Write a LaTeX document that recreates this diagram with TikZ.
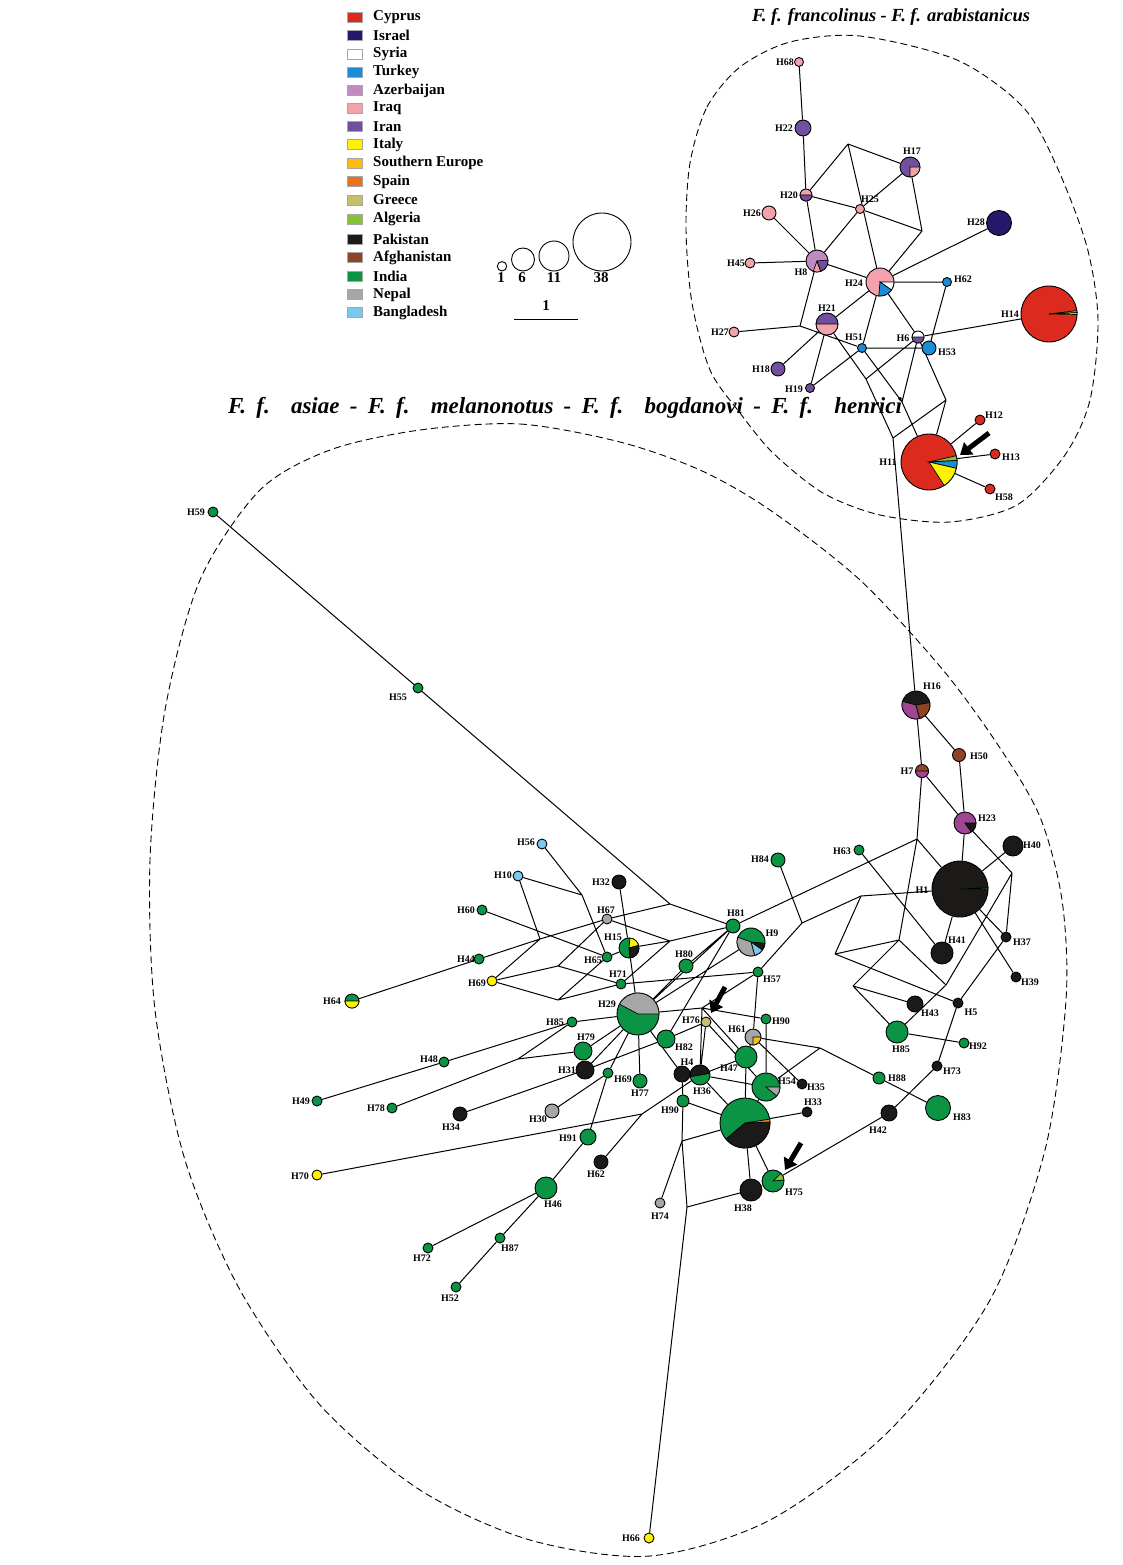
\documentclass[tikz,border=0pt]{standalone}
\usepackage{fontspec}
\setmainfont{Liberation Serif}
\usetikzlibrary{arrows.meta,backgrounds}
\definecolor{cCyp}{HTML}{DC2A1E}
\definecolor{cIsr}{HTML}{25196B}
\definecolor{cSyr}{HTML}{FFFFFF}
\definecolor{cTur}{HTML}{1B8CD6}
\definecolor{cAze}{HTML}{C08BC2}
\definecolor{cIrq}{HTML}{F3A1AA}
\definecolor{cIrn}{HTML}{6F4F9E}
\definecolor{cIta}{HTML}{FFF200}
\definecolor{cSEu}{HTML}{FBBC0E}
\definecolor{cSpa}{HTML}{E8731E}
\definecolor{cGre}{HTML}{C5BE6C}
\definecolor{cAlg}{HTML}{86C232}
\definecolor{cPak}{HTML}{1C1A19}
\definecolor{cAfg}{HTML}{8F4427}
\definecolor{cInd}{HTML}{0B9444}
\definecolor{cNep}{HTML}{A6A6A6}
\definecolor{cBan}{HTML}{7AC7EF}
\definecolor{cMag}{HTML}{9E4593}
\newcommand\pz[5]{\filldraw[fill=#5,draw=black,line width=.7pt] (#1.center) -- ++({-(#3)}:#2) arc[start angle={-(#3)},end angle={-(#4)},radius=#2] -- cycle;}
\tikzset{
  hap/.style={circle,draw=black,line width=.9pt,inner sep=0pt,minimum size=#1},
  lab/.style={font=\bfseries\fontsize{10}{11}\selectfont,inner sep=0pt},
  edge/.style={line width=1pt},
  legtxt/.style={font=\bfseries\fontsize{15}{16}\selectfont,anchor=west,inner sep=0pt},
  legsq/.style={draw=black!35,line width=.4pt,minimum width=15pt,minimum height=10pt,inner sep=0pt},
  legnum/.style={font=\bfseries\fontsize{15}{16}\selectfont,inner sep=0pt},
  ttl/.style={font=\bfseries\itshape\fontsize{18.5}{20}\selectfont,inner sep=0pt},
  grp/.style={dash pattern=on 7pt off 4pt,line width=.9pt},
  marker/.style={line width=5pt,-{Triangle[width=15pt,length=11pt]}},
}
\begin{document}
\begin{tikzpicture}[x=1pt,y=-1pt]
\useasboundingbox (0,0) rectangle (1122,1565);
% ---------- titles ----------
\node[ttl] (T1) at (891,17) {\makebox[278pt][s]{F. f. francolinus - F. f. arabistanicus}};
\node[ttl,font=\bfseries\itshape\fontsize{23}{25}\selectfont] (T2) at (565,408) {\makebox[674pt][s]{F. f. asiae - F. f. melanonotus - F. f. bogdanovi - F. f. henrici}};
% ---------- legend ----------
\foreach \c/\t/\y [count=\i] in {cCyp/Cyprus/17,cIsr/Israel/35.5,cSyr/Syria/54,cTur/Turkey/72,cAze/Azerbaijan/90.5,cIrq/Iraq/108.5,cIrn/Iran/126.5,cIta/Italy/144.5,cSEu/Southern Europe/163,cSpa/Spain/181.5,cGre/Greece/200,cAlg/Algeria/219,cPak/Pakistan/239,cAfg/Afghanistan/257.5,cInd/India/276,cNep/Nepal/294.5,cBan/Bangladesh/312.5}{
  \node[legsq,fill=\c] (sq\i) at (355,\y) {};
  \node[legtxt] (lt\i) at (373,\y) {\t};
}
\node[hap=9.4pt] (c1) at (502,266.3) {};
\node[hap=23pt] (c6) at (523,259.5) {};
\node[hap=30pt] (c11) at (554,256) {};
\node[hap=58pt] (c38) at (602,242) {};
\node[legnum] (n1) at (501,278) {1};
\node[legnum] (n6) at (522,278) {6};
\node[legnum] (n11) at (554,278) {11};
\node[legnum] (n38) at (601,278) {38};
\coordinate (sb1) at (514,319);
\coordinate (sb2) at (578,319);
\draw[line width=1pt] (sb1) -- (sb2);
\node[legnum] (nsb) at (546,306) {1};
% ---------- group outlines ----------
\draw[grp] plot[smooth cycle] coordinates {(690,163) (707,107) (740,67) (790,42) (860,36) (957,60) (1023,107) (1057,167) (1087,247) (1098,320) (1090,400) (1065,455) (1017,505) (950,522) (880,515) (823,493) (773,453) (740,413) (710,370) (692,303) (686,230)};
\draw[grp] plot[smooth cycle] coordinates {(420,430) (520,424) (620,442) (700,470) (770,510) (860,580) (943,670) (1000,748) (1040,817) (1062,900) (1066,1000) (1045,1150) (990,1300) (890,1430) (770,1520) (650,1556) (530,1540) (420,1490) (320,1405) (240,1290) (185,1160) (155,1010) (150,860) (165,710) (200,580) (260,490) (330,450)};
% ---------- top cluster nodes ----------
\node[hap=9pt,fill=cIrq] (H68) at (799,62) {};
\node[hap=16pt,fill=cIrn] (H22) at (803,128) {};
\node[hap=20pt,fill=cIrn] (H17) at (910,167) {};
\node[hap=12pt,fill=cIrq] (H20) at (806,195) {};
\node[hap=9pt,fill=cIrq] (H25) at (860,209) {};
\node[hap=14pt,fill=cIrq] (H26) at (769,213) {};
\node[hap=25pt,fill=cIsr] (H28) at (999,223) {};
\node[hap=22pt,fill=cAze] (H8) at (817,261) {};
\node[hap=10pt,fill=cIrq] (H45) at (750,263) {};
\node[hap=28pt,fill=cIrq] (H24) at (880,282) {};
\node[hap=9pt,fill=cTur] (H62a) at (947,282) {};
\node[hap=56pt,fill=cCyp] (H14) at (1049,314) {};
\node[hap=22pt,fill=cIrn] (H21) at (827,324) {};
\node[hap=10pt,fill=cIrq] (H27) at (734,332) {};
\node[hap=9pt,fill=cTur] (H51) at (862,348) {};
\node[hap=12pt,fill=cSyr] (H6) at (918,337) {};
\node[hap=14pt,fill=cTur] (H53) at (929,348) {};
\node[hap=14pt,fill=cIrn] (H18) at (778,369) {};
\node[hap=9pt,fill=cIrn] (H19) at (810,388) {};
\node[hap=56pt,fill=cCyp] (H11) at (929,462) {};
\node[hap=10pt,fill=cCyp] (H12) at (980,420) {};
\node[hap=10pt,fill=cCyp] (H13) at (995,454) {};
\node[hap=10pt,fill=cCyp] (H58) at (990,489) {};
\coordinate (A) at (848,144);
\coordinate (B) at (922,231);
\coordinate (C) at (800,326);
\coordinate (J1) at (866,379);
\coordinate (J2) at (902,402);
\coordinate (J3) at (946,400);
\coordinate (J4) at (893,438);
% ---------- right lower cluster ----------
\node[hap=28pt,fill=cPak] (H16) at (916,705) {};
\node[hap=13pt,fill=cAfg] (H50) at (959,755) {};
\node[hap=13pt,fill=cAfg] (H7) at (922,771) {};
\node[hap=22pt,fill=cMag] (H23) at (965,823) {};
\node[hap=20pt,fill=cPak] (H40) at (1013,846) {};
\node[hap=10pt,fill=cInd] (H63) at (859,850) {};
\node[hap=56pt,fill=cPak] (H1) at (960,889) {};
\node[hap=22pt,fill=cPak] (H41) at (942,953) {};
\node[hap=10pt,fill=cPak] (H37) at (1006,937) {};
\node[hap=10pt,fill=cPak] (H39) at (1016,977) {};
\node[hap=16pt,fill=cPak] (H43) at (915,1004) {};
\node[hap=10pt,fill=cPak] (H5) at (958,1003) {};
\node[hap=22pt,fill=cInd] (H85b) at (897,1032) {};
\node[hap=10pt,fill=cInd] (H92) at (964,1043) {};
\node[hap=10pt,fill=cPak] (H73) at (937,1066) {};
\node[hap=12pt,fill=cInd] (H88) at (879,1078) {};
\node[hap=25pt,fill=cInd] (H83) at (938,1108) {};
\node[hap=16pt,fill=cPak] (H42) at (889,1113) {};
\coordinate (K1) at (917,839);
\coordinate (K2) at (1012,873);
\coordinate (K3) at (861,896);
\coordinate (K4) at (835,954);
\coordinate (K5) at (899,940);
\coordinate (K6) at (853,986);
\coordinate (K7) at (946,985);
\coordinate (K8) at (802,923);
\coordinate (M1) at (820,1048);
% ---------- central cluster ----------
\node[hap=10pt,fill=cInd] (H59) at (213,512) {};
\node[hap=10pt,fill=cInd] (H55) at (418,688) {};
\node[hap=10pt,fill=cBan] (H56) at (542,844) {};
\node[hap=10pt,fill=cBan] (H10) at (518,876) {};
\node[hap=14pt,fill=cPak] (H32) at (619,882) {};
\node[hap=14pt,fill=cInd] (H84) at (778,860) {};
\node[hap=10pt,fill=cInd] (H60) at (482,910) {};
\node[hap=10pt,fill=cNep] (H67) at (607,919) {};
\node[hap=14pt,fill=cInd] (H81) at (733,926) {};
\node[hap=28pt,fill=cInd] (H9) at (751,942) {};
\node[hap=20pt,fill=cInd] (H15) at (629,948) {};
\node[hap=10pt,fill=cInd] (H44) at (479,959) {};
\node[hap=10pt,fill=cInd] (H65) at (607,957) {};
\node[hap=14pt,fill=cInd] (H80) at (686,966) {};
\node[hap=10pt,fill=cInd] (H71) at (621,984) {};
\node[hap=10pt,fill=cInd] (H57) at (758,972) {};
\node[hap=10pt,fill=cIta] (H69a) at (492,981) {};
\node[hap=14pt,fill=cInd] (H64) at (352,1001) {};
\node[hap=42pt,fill=cInd] (H29) at (638,1014) {};
\node[hap=10pt,fill=cInd] (H85a) at (572,1022) {};
\node[hap=10pt,fill=cGre] (H76) at (706,1022) {};
\node[hap=10pt,fill=cInd] (H90a) at (766,1019) {};
\node[hap=16pt,fill=cNep] (H61) at (753,1037) {};
\node[hap=18pt,fill=cInd] (H79) at (583,1051) {};
\node[hap=18pt,fill=cInd] (H82) at (666,1039) {};
\node[hap=22pt,fill=cInd] (H47) at (746,1057) {};
\node[hap=10pt,fill=cInd] (H48) at (444,1062) {};
\node[hap=18pt,fill=cPak] (H31) at (585,1070) {};
\node[hap=10pt,fill=cInd] (H69b) at (608,1073) {};
\node[hap=14pt,fill=cInd] (H77) at (640,1081) {};
\node[hap=16pt,fill=cPak] (H4) at (682,1074) {};
\node[hap=20pt,fill=cInd] (H36) at (700,1075) {};
\node[hap=28pt,fill=cInd] (H54) at (766,1087) {};
\node[hap=10pt,fill=cPak] (H35) at (802,1084) {};
\node[hap=12pt,fill=cInd] (H90b) at (683,1101) {};
\node[hap=10pt,fill=cInd] (H49) at (317,1101) {};
\node[hap=10pt,fill=cInd] (H78) at (392,1108) {};
\node[hap=14pt,fill=cNep] (H30) at (552,1111) {};
\node[hap=10pt,fill=cPak] (H33) at (807,1112) {};
\node[hap=14pt,fill=cPak] (H34) at (460,1114) {};
\node[hap=50pt,fill=cInd] (Hx) at (745,1123) {};
\node[hap=16pt,fill=cInd] (H91) at (588,1137) {};
\node[hap=14pt,fill=cPak] (H62b) at (601,1162) {};
\node[hap=10pt,fill=cIta] (H70) at (317,1175) {};
\node[hap=22pt,fill=cInd] (H75) at (773,1181) {};
\node[hap=22pt,fill=cInd] (H46) at (546,1188) {};
\node[hap=22pt,fill=cPak] (H38) at (751,1190) {};
\node[hap=10pt,fill=cNep] (H74) at (660,1203) {};
\node[hap=10pt,fill=cInd] (H87) at (500,1238) {};
\node[hap=10pt,fill=cInd] (H72) at (428,1248) {};
\node[hap=10pt,fill=cInd] (H52) at (456,1287) {};
\node[hap=10pt,fill=cIta] (H66) at (649,1538) {};
\coordinate (P1) at (670,904);
\coordinate (R1) at (582,895);
\coordinate (R2) at (540,939);
\coordinate (R3) at (670,941);
\coordinate (R4) at (558,966);
\coordinate (R5) at (558,1000);
\coordinate (S2) at (702,1008);
\coordinate (N1) at (518,1059);
\coordinate (T1) at (642,1114);
\coordinate (Q2) at (682,1141);
\coordinate (Q1) at (687,1207);
% ---------- connectors ----------
\begin{scope}[on background layer]
\draw[edge] (H68)--(H22) (H22)--(H20) (H20)--(A) (A)--(H17) (A)--(H24) (H20)--(H25) (H25)--(B)
 (H17)--(H25) (H25)--(H8) (H17)--(B) (B)--(H24) (H20)--(H8) (H26)--(H8) (H45)--(H8) (H8)--(H24)
 (H28)--(H24) (H24)--(H62a) (H8)--(C) (C)--(H27) (C)--(H51) (H24)--(H21) (H21)--(H18) (H21)--(H19)
 (H21)--(J1) (J1)--(J4) (J1)--(H6) (H24)--(H51) (H24)--(H6) (H51)--(H53) (H6)--(H14) (H19)--(H51)
 (H51)--(J2) (J2)--(H11) (H6)--(J2) (H6)--(J3) (H62a)--(H53) (J3)--(H11) (J4)--(J3) (J4)--(H16)
 (H11)--(H12) (H11)--(H13) (H11)--(H58);
\draw[edge] (H16)--(H7) (H16)--(H50) (H7)--(H23) (H50)--(H23) (H7)--(K1) (H23)--(H1) (H23)--(K2)
 (K1)--(H1) (K1)--(K5) (K3)--(H1) (K3)--(K4) (K4)--(K5) (K4)--(H5) (K5)--(K7) (K5)--(K6)
 (K6)--(H43) (K6)--(H85b) (K7)--(H85b) (K2)--(K7) (K2)--(H37) (H1)--(H41) (H1)--(H37) (H1)--(H39)
 (H1)--(H40) (H63)--(H41) (H37)--(H5) (H5)--(H73) (H73)--(H42) (H85b)--(H92) (H88)--(H83);
\draw[edge] (H59)--(H55) (H55)--(P1) (P1)--(H67) (H44)--(R2) (R2)--(H67) (P1)--(H81) (H56)--(R1)
 (R1)--(H65) (H10)--(R1) (H10)--(R2) (R2)--(H69a) (H60)--(H65) (H67)--(R3) (H15)--(R3) (R3)--(H81)
 (H69a)--(R4) (R4)--(H71) (R4)--(H67) (H69a)--(R5) (R5)--(H71) (R5)--(H65) (H65)--(H15) (R3)--(H71)
 (H71)--(H57) (H32)--(H15) (H15)--(H29) (H81)--(H80) (H81)--(H29) (H81)--(H82) (H80)--(H29)
 (H9)--(H29) (H57)--(K8) (H84)--(K8) (K8)--(K3) (K1)--(H81) (H29)--(S2) (S2)--(H57) (S2)--(H90a)
 (S2)--(H36) (S2)--(H47) (H76)--(H36) (H76)--(H54) (H82)--(H76) (H31)--(H82) (H31)--(H29)
 (H79)--(H29) (H69b)--(H29) (H91)--(H69b) (H69b)--(H30) (H29)--(H77) (H29)--(H4) (H29)--(H85a)
 (H85a)--(H48) (H48)--(H49) (H85a)--(N1) (N1)--(H78) (N1)--(H79) (H34)--(H31) (H46)--(H91)
 (H46)--(H72) (H46)--(H87) (H87)--(H52) (H64)--(H44) (H70)--(T1) (T1)--(H62b) (T1)--(H36)
 (H36)--(H47) (H36)--(H54) (H36)--(Hx) (H47)--(Hx) (H57)--(H61) (H61)--(H47) (H90a)--(H54)
 (H61)--(M1) (M1)--(H88) (M1)--(H54) (H61)--(H35) (Hx)--(H33) (Hx)--(H38) (Hx)--(H75) (Hx)--(H54)
 (Hx)--(Q2) (H4)--(H90b) (H90b)--(Q2) (H90b)--(Hx) (Q2)--(H74) (Q2)--(Q1) (Q1)--(H66) (Q1)--(H38)
 (H75)--(H42);
\end{scope}
% ---------- pie slices ----------
\pz{H17}{10}{-90}{0}{cIrq}
\pz{H20}{6}{180}{360}{cIrn}
\pz{H8}{11}{-110}{-70}{cIrq}
\pz{H8}{11}{-70}{5}{cIrn}
\pz{H24}{14}{-35}{0}{cSyr}
\pz{H24}{14}{-95}{-35}{cTur}
\pz{H14}{28}{-1}{3}{cIta}
\pz{H14}{28}{3}{7}{cAlg}
\pz{H21}{11}{180}{360}{cIrq}
\pz{H6}{6}{180}{360}{cIrn}
\pz{H11}{28}{3}{13}{cAlg}
\pz{H11}{28}{-13}{3}{cTur}
\pz{H11}{28}{-57}{-13}{cIta}
\pz{H16}{14}{165}{285}{cMag}
\pz{H16}{14}{-75}{10}{cAfg}
\pz{H7}{6.5}{180}{360}{cMag}
\pz{H23}{11}{-55}{0}{cPak}
\pz{H1}{28}{0}{3}{cInd}
\pz{H9}{14}{-35}{-5}{cPak}
\pz{H9}{14}{-75}{-35}{cBan}
\pz{H9}{14}{160}{285}{cNep}
\pz{H15}{10}{15}{85}{cIta}
\pz{H15}{10}{-85}{15}{cPak}
\pz{H64}{7}{180}{360}{cIta}
\pz{H29}{21}{0}{152}{cNep}
\pz{H61}{8}{-90}{0}{cSEu}
\pz{H36}{10}{10}{190}{cPak}
\pz{H54}{14}{-40}{0}{cNep}
\pz{Hx}{25}{-140}{2}{cPak}
\pz{Hx}{25}{2}{9}{cSpa}
\pz{H75}{11}{5}{45}{cAlg}
% ---------- labels ----------
\foreach \n/\t/\x/\y in {H68/H68/785/62,H22/H22/784/128,H17/H17/912/151,H20/H20/789/195,H25/H25/870/199,
 H26/H26/752/213,H28/H28/976/222,H45/H45/736/263,H8/H8/801/272,H24/H24/854/283,H62a/H62/963/279,
 H21/H21/827/308,H14/H14/1010/314,H27/H27/720/332,H51/H51/854/337,H6/H6/903/338,H53/H53/947/352,
 H18/H18/761/369,H19/H19/794/389,H12/H12/994/415,H11/H11/888/462,H13/H13/1011/457,H58/H58/1004/497,
 H16/H16/932/686,H50/H50/979/756,H7/H7/907/771,H23/H23/987/818,H40/H40/1032/845,H63/H63/842/851,
 H1/H1/922/890,H41/H41/957/940,H37/H37/1022/942,H39/H39/1030/982,H43/H43/930/1013,H5/H5/971/1012,
 H85b/H85/901/1049,H92/H92/978/1046,H73/H73/952/1071,H88/H88/897/1078,H83/H83/962/1117,H42/H42/878/1130,
 H56/H56/526/842,H10/H10/503/875,H32/H32/601/882,H84/H84/760/859,H60/H60/466/910,H67/H67/606/910,
 H81/H81/736/913,H9/H9/772/933,H15/H15/613/937,H44/H44/466/959,H65/H65/593/960,H80/H80/684/954,
 H71/H71/618/974,H57/H57/772/979,H69a/H69/477/983,H29/H29/607/1004,H85a/H85/555/1022,H76/H76/691/1020,
 H90a/H90/781/1021,H61/H61/737/1029,H79/H79/586/1037,H82/H82/684/1047,H31/H31/567/1070,H69b/H69/623/1079,
 H77/H77/640/1093,H4/H4/687/1062,H36/H36/702/1091,H47/H47/729/1068,H54/H54/787/1081,H90b/H90/670/1110,
 H35/H35/816/1087,H33/H33/813/1102,H38/H38/743/1208,H75/H75/794/1192,H62b/H62/596/1174,H91/H91/568/1138,
 H46/H46/553/1204,H74/H74/660/1216,H64/H64/332/1001,H48/H48/429/1059,H49/H49/301/1101,H78/H78/376/1108,
 H34/H34/451/1127,H30/H30/538/1119,H70/H70/300/1176,H72/H72/422/1258,H87/H87/510/1248,H52/H52/450/1298,
 H59/H59/196/512,H55/H55/398/697,H66/H66/631/1538}{
  \node[lab] (l\n) at (\x,\y) {\t};
}
% ---------- markers ----------
\coordinate (a1s) at (989,433);
\coordinate (a1e) at (960,455);
\coordinate (a2s) at (725,987);
\coordinate (a2e) at (711,1013);
\coordinate (a3s) at (801,1143);
\coordinate (a3e) at (785,1170);
\draw[marker] (a1s) -- (a1e);
\draw[marker] (a2s) -- (a2e);
\draw[marker] (a3s) -- (a3e);
\end{tikzpicture}
\end{document}
